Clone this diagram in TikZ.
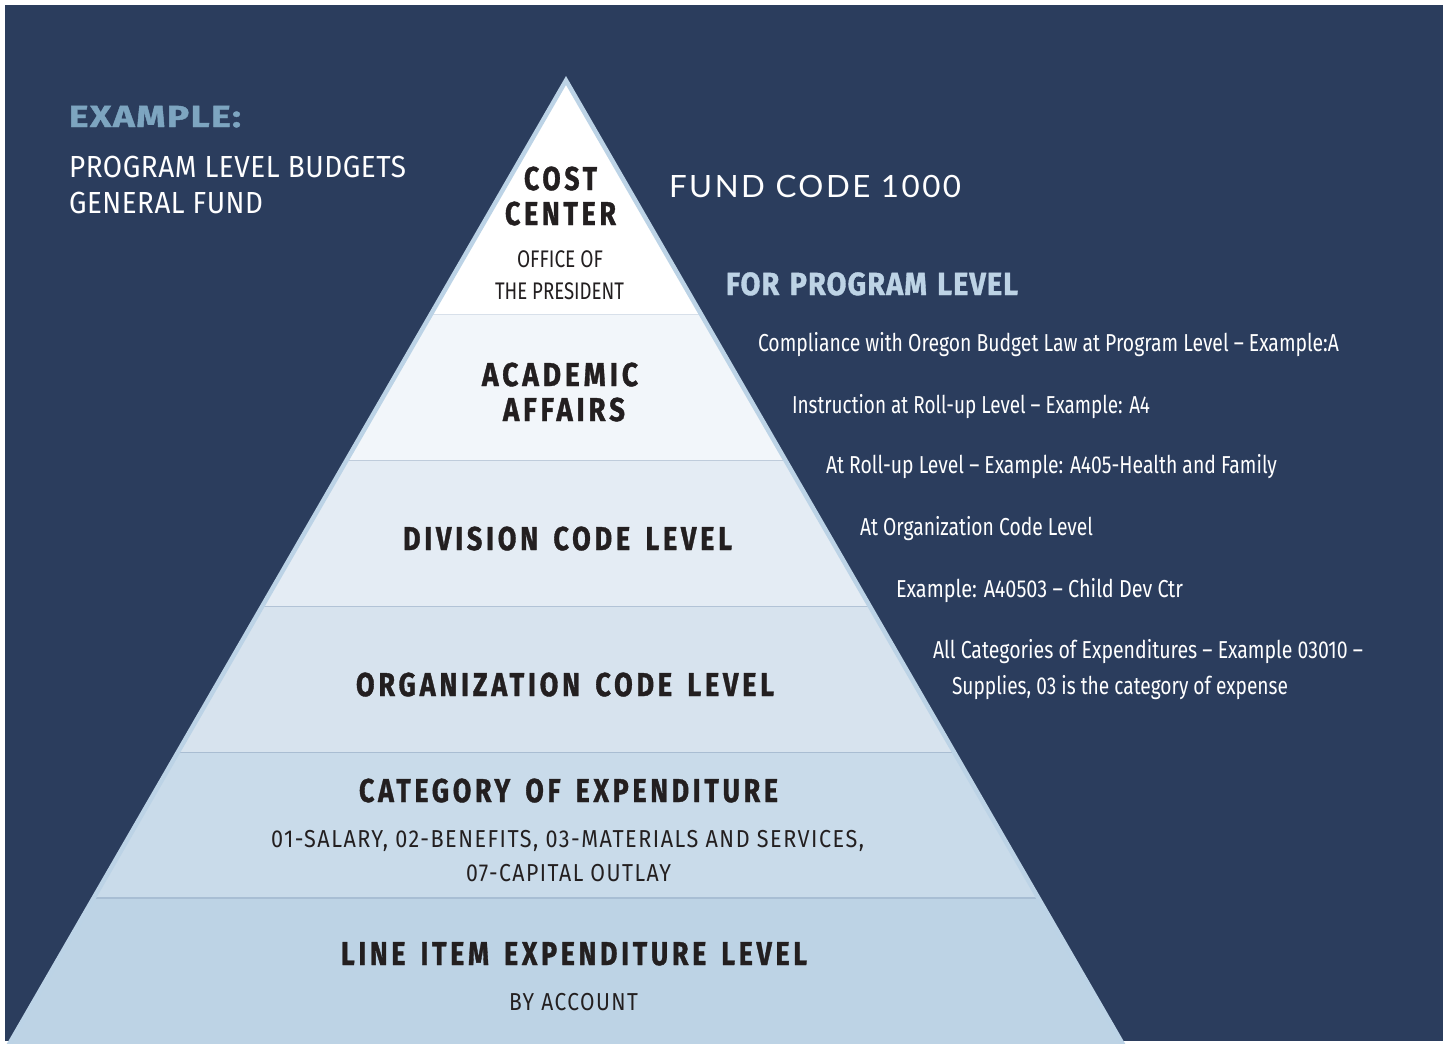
\documentclass[tikz,border=0pt]{standalone}
\usepackage{fontspec}
\usepackage{graphicx}
\setmainfont{Fira Sans}
\newfontfamily\bodyf{Fira Sans}
\newfontfamily\headf{Fira Sans}[LetterSpace=14,WordSpace=1.5,BoldFeatures={FakeBold=1.2}]
\newfontfamily\headtf{Fira Sans}[LetterSpace=4,WordSpace=1.3,BoldFeatures={FakeBold=1.2}]
\newfontfamily\subf{Fira Sans}[LetterSpace=7]
\newfontfamily\leftf{Fira Sans}[LetterSpace=2]
\newfontfamily\widef{Lato}[LetterSpace=8]
\definecolor{navy}{HTML}{2B3D5D}
\definecolor{bandA}{HTML}{FFFFFF}
\definecolor{bandB}{HTML}{F2F6FA}
\definecolor{bandC}{HTML}{E4ECF4}
\definecolor{bandD}{HTML}{D7E3EE}
\definecolor{bandE}{HTML}{C9DBEA}
\definecolor{bandF}{HTML}{BDD3E5}
\definecolor{edgec}{HTML}{BCD3E6}
\definecolor{divA}{HTML}{D8E0EA}
\definecolor{divB}{HTML}{BFCCDB}
\definecolor{divC}{HTML}{B2C3D6}
\definecolor{divD}{HTML}{A9BDD2}
\definecolor{divE}{HTML}{A8BED4}
\definecolor{ink}{HTML}{231F20}
\definecolor{steel}{HTML}{7DA5C0}
\definecolor{pale}{HTML}{BDD3E5}
\newcommand\fitw[2]{\resizebox{#1pt}{\height}{#2}}
\tikzset{
  txt/.style={anchor=base west, inner sep=0pt, outer sep=0pt},
  head/.style={txt, text=ink, font=\headf\bfseries\fontsize{33}{36}\selectfont},
  subtxt/.style={txt, text=ink, font=\subf\fontsize{24.5}{28}\selectfont},
  plain/.style={txt, text=ink, font=\bodyf\fontsize{24}{28}\selectfont},
  side/.style={txt, text=white, font=\bodyf\fontsize{24.5}{28}\selectfont},
  lefttxt/.style={txt, text=white, font=\leftf\fontsize{30.5}{34}\selectfont},
  divline/.style={line width=1.5pt},
}
\begin{document}
\begin{tikzpicture}[x=1pt,y=-1pt]
\useasboundingbox (0,0) rectangle (1446,1044);
\fill[white] (0,0) rectangle (1446,1044);
\fill[navy] (5,5) rectangle (1443,1041);
% pyramid
\coordinate (apex) at (566,80.5);
\coordinate (bl) at (8.1,1046);
\coordinate (br) at (1123.9,1046);
\begin{scope}
  \clip (apex) -- (br) -- (bl) -- cycle;
  \fill[bandA] (0,60) rectangle (1446,315);
  \fill[bandB] (0,315) rectangle (1446,461);
  \fill[bandC] (0,461) rectangle (1446,607);
  \fill[bandD] (0,607) rectangle (1446,753);
  \fill[bandE] (0,753) rectangle (1446,898);
  \fill[bandF] (0,898) rectangle (1446,1050);
  \draw[divline, divA] (0,314.5) -- (1446,314.5);
  \draw[divline, divB] (0,460.5) -- (1446,460.5);
  \draw[divline, divC] (0,606.5) -- (1446,606.5);
  \draw[divline, divD] (0,752.5) -- (1446,752.5);
  \draw[divline, divE] (0,898) -- (1446,898);
\end{scope}
\draw[edgec, line width=4.5pt, line join=miter] (bl) -- (apex) -- (br);
% left texts
\node[txt, text=steel, font=\headtf\bfseries\fontsize{30.5}{34}\selectfont] (ex) at (69,127) {\fitw{172}{EXAMPLE:}};
\node[lefttxt] (plb) at (69,177) {\fitw{337}{PROGRAM LEVEL BUDGETS}};
\node[lefttxt] (gf) at (69,213) {\fitw{194}{GENERAL FUND}};
% pyramid texts
\node[head] (cost) at (524,190) {\fitw{73}{COST}};
\node[head] (center) at (505,225) {\fitw{111}{CENTER}};
\node[plain] (office) at (517,267) {\fitw{86}{OFFICE OF}};
\node[plain] (pres) at (495,299) {\fitw{129}{THE PRESIDENT}};
\node[head] (acad) at (482,386) {\fitw{156}{ACADEMIC}};
\node[head] (aff) at (503,421) {\fitw{122}{AFFAIRS}};
\node[head] (div) at (403,550) {\fitw{329}{DIVISION CODE LEVEL}};
\node[head] (org) at (356,696) {\fitw{418}{ORGANIZATION CODE LEVEL}};
\node[head] (cat) at (359,802) {\fitw{419}{CATEGORY OF EXPENDITURE}};
\node[subtxt] (sal) at (271,847) {\fitw{593}{01-SALARY, 02-BENEFITS, 03-MATERIALS AND SERVICES,}};
\node[subtxt] (cap) at (466,881) {\fitw{205}{07-CAPITAL OUTLAY}};
\node[head] (line) at (341,965) {\fitw{466}{LINE ITEM EXPENDITURE LEVEL}};
\node[subtxt] (acct) at (509,1010) {\fitw{129}{BY ACCOUNT}};
% right texts
\node[txt, text=white, font=\widef\fontsize{30.7}{34}\selectfont] (fund) at (669,197) {\fitw{292}{FUND CODE 1000}};
\node[txt, text=pale, font=\headtf\bfseries\fontsize{32}{36}\selectfont] (fpl) at (726,295) {\fitw{292}{FOR PROGRAM LEVEL}};
\node[side] (r1) at (758,351) {\fitw{581}{Compliance with Oregon Budget Law at Program Level – Example:A}};
\node[side] (r2) at (792,413) {\fitw{358}{Instruction at Roll-up Level – Example: A4}};
\node[side] (r3) at (826,473) {\fitw{451}{At Roll-up Level – Example: A405-Health and Family}};
\node[side] (r4) at (860,535) {\fitw{233}{At Organization Code Level}};
\node[side] (r5) at (896,597) {\fitw{287}{Example: A40503 – Child Dev Ctr}};
\node[side] (r6) at (933,658) {\fitw{430}{All Categories of Expenditures – Example 03010 –}};
\node[side] (r7) at (952,694) {\fitw{336}{Supplies, 03 is the category of expense}};
\end{tikzpicture}
\end{document}
